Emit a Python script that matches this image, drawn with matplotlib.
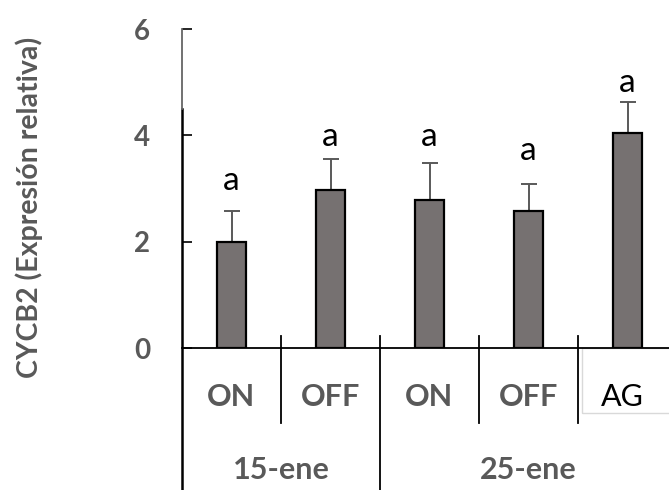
import matplotlib
matplotlib.use("Agg")
import matplotlib.pyplot as plt
from matplotlib.patches import Rectangle

# ---- data ----
treatments = ["ON", "OFF", "ON", "OFF", "AG"]
groups = ["15-ene", "25-ene"]
group_spans = [(0, 1), (2, 4)]
values = [2.00, 2.98, 2.78, 2.58, 4.05]
errors = [0.57, 0.57, 0.70, 0.50, 0.58]
letters = ["a", "a", "a", "a", "a"]
letter_y = [3.15, 3.96, 3.96, 3.71, 4.99]
yticks = [0, 2, 4, 6]

GRAY = "#595959"
BAR = "#767171"
FONT = "Lato"

fig = plt.figure(figsize=(6.69, 4.90), dpi=100)
W, H = 669, 490
ax = fig.add_axes([182 / W, 142 / H, 495 / W, 319 / H])

x = list(range(len(values)))
ax.bar(x, values, width=0.30, color=BAR, edgecolor="black", linewidth=1.6, zorder=3)
ax.errorbar(x, values, yerr=[[0] * len(errors), errors], fmt="none",
            ecolor=GRAY, elinewidth=1.4, capsize=6, capthick=1.4, zorder=2)

for xi, lt, ly in zip(x, letters, letter_y):
    ax.text(xi, ly, lt, ha="center", va="center", fontsize=24,
            family=FONT, color="black")

ax.set_xlim(-0.5, 4.5)
ax.set_ylim(0, 6)
ax.set_yticks(yticks)
ax.set_yticklabels([str(t) for t in yticks], fontsize=20, fontweight="bold",
                   family=FONT, color=GRAY)
ax.tick_params(axis="y", direction="in", length=7.5, width=1.2, pad=23)
ax.set_xticks([])
for s in ["top", "right"]:
    ax.spines[s].set_visible(False)
ax.spines["left"].set_visible(False)
ax.spines["bottom"].set_linewidth(1.3)

tr = ax.get_xaxis_transform()
bottom_frac = -142 / 319
# extended left axis line (black lower part, thinner gray top part)
ax.plot([-0.5, -0.5], [0.75, bottom_frac], transform=tr, color="black",
        lw=1.8, clip_on=False, zorder=5)
ax.plot([-0.5, -0.5], [1.0, 0.75], transform=tr, color="#666666",
        lw=1.3, clip_on=False, zorder=5)

# category dividers
div_top = 12 / 319
div_bot = -75 / 319
for i in range(len(treatments) - 1):
    xd = i + 0.5
    is_group_border = any(xd == g[0] - 0.5 for g in group_spans[1:])
    yb = bottom_frac if is_group_border else div_bot
    ax.plot([xd, xd], [div_top, yb], transform=tr, color="black", lw=1.3,
            clip_on=False)

# category labels
lab_y = -49 / 319
for xi, t in zip(x, treatments):
    if t == "AG":
        ax.text(xi - 0.05, lab_y, t, transform=tr, ha="center", va="center",
                fontsize=22, family=FONT, color="black")
        ax.add_patch(Rectangle((xi - 0.46, -65 / 319), 1.0, 65 / 319,
                               transform=tr, fill=False, edgecolor="#d9d9d9",
                               lw=1.0, clip_on=False))
    else:
        ax.text(xi, lab_y, t, transform=tr, ha="center", va="center",
                fontsize=22, fontweight="bold", family=FONT, color=GRAY)

# group labels
grp_y = -122 / 319
for g, (a, b) in zip(groups, group_spans):
    ax.text((a + b) / 2, grp_y, g, transform=tr, ha="center", va="center",
            fontsize=22, fontweight="bold", family=FONT, color=GRAY)

fig.text(29 / W, 1 - 207 / H, "CYCB2 (Expresión relativa)", rotation=90,
         ha="center", va="center", fontsize=20.5, fontweight="bold",
         family=FONT, color=GRAY)

fig.savefig("out.png", dpi=100)
